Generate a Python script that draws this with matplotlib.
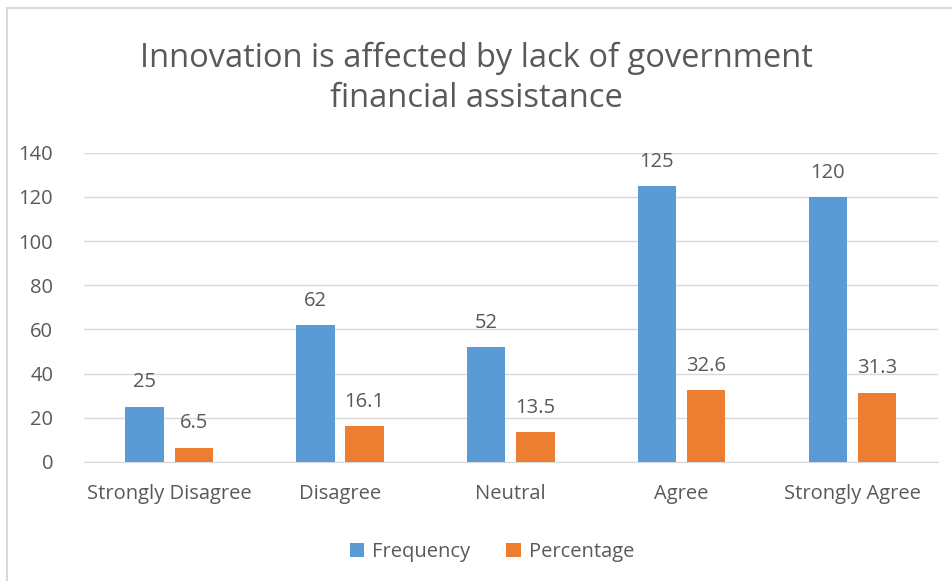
import numpy as np
import matplotlib.pyplot as plt
from matplotlib.lines import Line2D

categories = ['Strongly Disagree', 'Disagree', 'Neutral', 'Agree', 'Strongly Agree']
frequency = [25, 62, 52, 125, 120]
percentage = [6.5, 16.1, 13.5, 32.6, 31.3]
yticks = [0, 20, 40, 60, 80, 100, 120, 140]

plt.rcParams['font.family'] = ['Open Sans', 'DejaVu Sans']
text_col = '#595959'

fig = plt.figure(figsize=(9.52, 5.81), dpi=100)
ax = fig.add_axes([0.088, 0.205, 0.897, 0.532])

x = np.arange(len(categories))
w = 0.225
off = 0.144
b1 = ax.bar(x - off, frequency, w, color='#5B9BD5', label='Frequency', zorder=3)
b2 = ax.bar(x + off, percentage, w, color='#ED7D31', label='Percentage', zorder=3)

for bars, vals in ((b1, frequency), (b2, percentage)):
    for r, v in zip(bars, vals):
        ax.text(r.get_x() + r.get_width() / 2, v + 6.5, f'{v:g}', ha='center', va='bottom',
                fontsize=14.5, color=text_col)

ax.set_xlim(-0.5, len(categories) - 0.5)
ax.set_ylim(0, 140)
ax.set_yticks(yticks)
ax.set_xticks(x)
ax.set_xticklabels(categories)
ax.grid(axis='y', color='#D9D9D9', linewidth=1, zorder=0)
for s in ['top', 'right', 'left']:
    ax.spines[s].set_visible(False)
ax.spines['bottom'].set_color('#D9D9D9')
ax.tick_params(axis='both', length=0, labelsize=14.5, colors=text_col)
ax.tick_params(axis='x', pad=16)
ax.tick_params(axis='y', pad=22)

fig.text(0.5, 0.865, 'Innovation is affected by lack of government\nfinancial assistance',
         ha='center', va='center', fontsize=23.5, color=text_col, linespacing=1.3)

ax.legend(loc='upper center', bbox_to_anchor=(0.478, -0.2), ncol=2, frameon=False,
          fontsize=14.5, labelcolor=text_col, handlelength=0.7, handleheight=0.7,
          columnspacing=1.8, handletextpad=0.4)

fig.add_artist(Line2D([0.0075, 0.0075], [0, 0.986], transform=fig.transFigure, color='#D9D9D9', lw=1.5))
fig.add_artist(Line2D([0.0075, 1], [0.986, 0.986], transform=fig.transFigure, color='#D9D9D9', lw=1.5))

fig.savefig('out.png', dpi=100)
